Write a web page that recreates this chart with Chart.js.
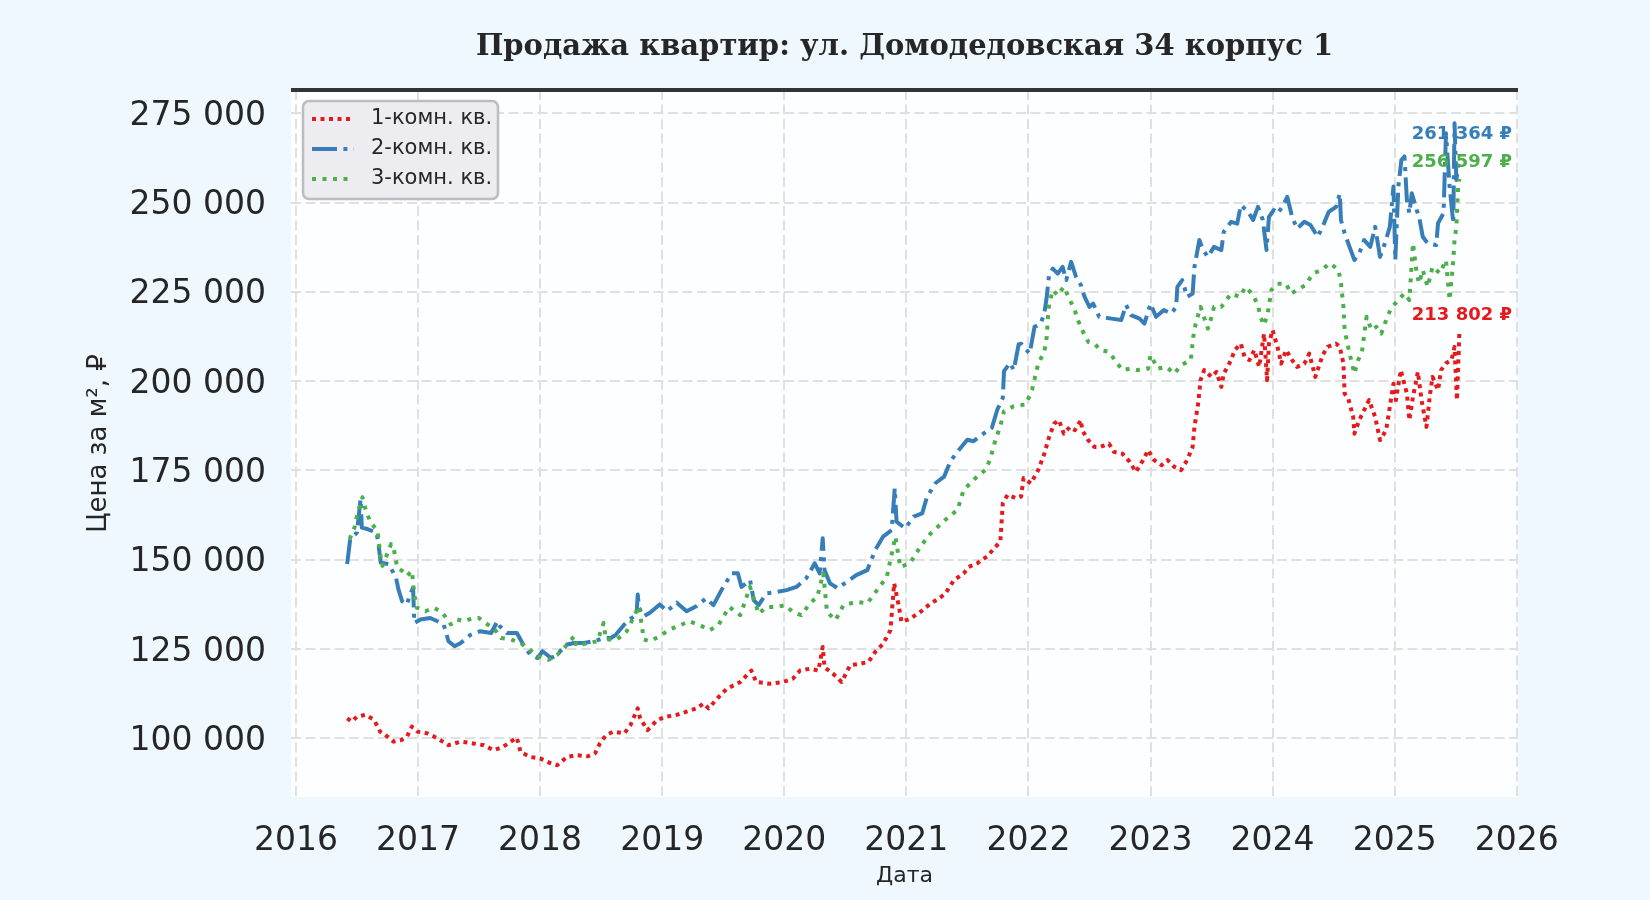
<!DOCTYPE html>
<html lang="ru">
<head>
<meta charset="utf-8">
<title>Продажа квартир</title>
<script src="https://cdn.jsdelivr.net/npm/chart.js@4.4.1/dist/chart.umd.min.js"></script>
<style>
    html, body { margin: 0; padding: 0; background: #f0f8ff; }
    #wrap { width: 1650px; height: 900px; }
</style>
</head>
<body>
<div id="wrap"><canvas id="grafico" width="1650" height="900"></canvas></div>
<script>

var chartTitle = 'Продажа квартир: ул. Домодедовская 34 корпус 1';
var xTitle = 'Дата';
var yTitle = 'Цена за м², ₽';
var seriesNames = ['1-комн. кв.', '2-комн. кв.', '3-комн. кв.'];
var yearTicks = [2016, 2017, 2018, 2019, 2020, 2021, 2022, 2023, 2024, 2025, 2026];
var priceTicks = [100000, 125000, 150000, 175000, 200000, 225000, 250000, 275000];

// 1-комн. кв. (дата в долях года, цена за м²)
var datesOne = [2016.42, 2016.46, 2016.50, 2016.57, 2016.64, 2016.69, 2016.75, 2016.80, 2016.86, 2016.91, 2016.95, 2016.995,
    2017.08, 2017.16, 2017.25, 2017.35, 2017.45, 2017.54, 2017.62, 2017.70, 2017.76, 2017.81, 2017.84, 2017.92,
    2018.00, 2018.09, 2018.14, 2018.22, 2018.30, 2018.39, 2018.45, 2018.49, 2018.54, 2018.60, 2018.69, 2018.74, 2018.80, 2018.82, 2018.88, 2018.96,
    2019.04, 2019.12, 2019.20, 2019.28, 2019.34, 2019.38, 2019.46, 2019.53, 2019.64, 2019.73, 2019.77, 2019.88, 2019.99,
    2020.07, 2020.13, 2020.21, 2020.28, 2020.315, 2020.33, 2020.40, 2020.47, 2020.54, 2020.62, 2020.69, 2020.745, 2020.81, 2020.87, 2020.90, 2020.94, 2020.96,
    2021.03, 2021.115, 2021.20, 2021.27, 2021.32, 2021.39, 2021.47, 2021.51, 2021.58, 2021.66, 2021.72, 2021.77, 2021.79, 2021.83, 2021.90, 2021.94, 2021.96,
    2022.02, 2022.08, 2022.13, 2022.17, 2022.21, 2022.25, 2022.29, 2022.34, 2022.38, 2022.43, 2022.44, 2022.49, 2022.54, 2022.59, 2022.66, 2022.70, 2022.77, 2022.83, 2022.88, 2022.94, 2022.98,
    2023.03, 2023.09, 2023.14, 2023.195, 2023.25, 2023.30, 2023.345, 2023.36, 2023.39, 2023.41, 2023.44, 2023.50, 2023.54, 2023.58, 2023.60, 2023.66, 2023.69, 2023.74, 2023.77, 2023.81, 2023.85, 2023.89, 2023.93, 2023.955, 2023.97,
    2024.00, 2024.04, 2024.07, 2024.11, 2024.16, 2024.20, 2024.26, 2024.30, 2024.35, 2024.41, 2024.45, 2024.52, 2024.55, 2024.58, 2024.59, 2024.62, 2024.66, 2024.67, 2024.71, 2024.75, 2024.79, 2024.84, 2024.88, 2024.93, 2024.96, 2024.99,
    2025.01, 2025.05, 2025.10, 2025.12, 2025.15, 2025.19, 2025.22, 2025.26, 2025.29, 2025.31, 2025.355, 2025.38, 2025.42, 2025.465, 2025.49, 2025.51, 2025.52, 2025.53];
var pricesOne = [105600, 104700, 106100, 106600, 105200, 101900, 100500, 99100, 99500, 100500, 103300, 101900,
    101400, 100000, 98100, 99100, 98600, 98100, 96700, 97700, 99100, 100200, 96200, 94800,
    94400, 93000, 92500, 94800, 95300, 95000, 95800, 98600, 100900, 101900, 101400, 103700, 108400, 105600, 102300, 105200,
    106100, 106600, 107500, 108400, 109800, 108400, 111500, 113900, 115800, 119000, 115800, 115300, 115800,
    116700, 119000, 119500, 119000, 125600, 119900, 118100, 115800, 120500, 120900, 121400, 124200, 126500, 130300, 143400, 136800, 132600,
    133500, 135400, 137800, 139200, 140600, 144300, 146200, 148000, 149000, 150900, 153200, 155100, 165800, 168200, 167200, 167700, 172900,
    171400, 175100, 179700, 184400, 188100, 189100, 185300, 187200, 186300, 189100, 186300, 183500, 181600, 181600, 182500, 180200, 179700, 177400, 174600, 177900, 180700,
    177900, 176500, 177900, 176000, 175100, 177900, 181600, 187200, 193700, 200300, 203100, 201200, 202600, 198400, 202100, 205900, 208700, 210500, 206800, 205900, 208700, 204000, 213300, 200300, 210500,
    214300, 209600, 204900, 208700, 205900, 204000, 204900, 207700, 201200, 207300, 209600, 210500, 209600, 205000, 196500, 195100, 190000, 185300, 189100, 191900, 194700, 190000, 183500, 186300, 192800, 199300,
    194700, 203100, 196500, 189100, 195600, 202600, 194700, 187200, 196500, 201200, 197500, 203100, 205000, 205900, 209600, 194700, 204000, 213802];

// 2-комн. кв.
var datesTwo = [2016.42, 2016.445, 2016.50, 2016.53, 2016.54, 2016.586, 2016.66, 2016.675, 2016.695, 2016.76, 2016.82, 2016.84, 2016.87, 2016.91, 2016.93, 2016.96, 2016.97,
    2017.02, 2017.10, 2017.16, 2017.21, 2017.25, 2017.30, 2017.35, 2017.43, 2017.51, 2017.60, 2017.65, 2017.67, 2017.73, 2017.81, 2017.87, 2017.92, 2017.98,
    2018.02, 2018.09, 2018.14, 2018.21, 2018.28, 2018.36, 2018.44, 2018.52, 2018.58, 2018.62, 2018.69, 2018.75, 2018.79, 2018.80, 2018.81, 2018.85, 2018.90, 2018.98,
    2019.04, 2019.12, 2019.20, 2019.28, 2019.36, 2019.42, 2019.50, 2019.57, 2019.62, 2019.65, 2019.72, 2019.75, 2019.79, 2019.855, 2019.94,
    2020.02, 2020.10, 2020.18, 2020.25, 2020.29, 2020.315, 2020.33, 2020.375, 2020.44, 2020.51, 2020.59, 2020.68, 2020.745, 2020.81, 2020.88, 2020.905, 2020.92, 2020.99,
    2021.06, 2021.13, 2021.17, 2021.24, 2021.31, 2021.36, 2021.42, 2021.50, 2021.55, 2021.64, 2021.70, 2021.745, 2021.79, 2021.80, 2021.85, 2021.88, 2021.92, 2021.94, 2021.98,
    2022.01, 2022.05, 2022.10, 2022.13, 2022.15, 2022.17, 2022.20, 2022.24, 2022.28, 2022.31, 2022.35, 2022.39, 2022.43, 2022.46, 2022.50, 2022.53, 2022.58, 2022.68, 2022.76, 2022.80, 2022.84, 2022.91, 2022.95,
    2023.00, 2023.045, 2023.11, 2023.17, 2023.21, 2023.22, 2023.26, 2023.30, 2023.345, 2023.36, 2023.40, 2023.43, 2023.47, 2023.52, 2023.58, 2023.60, 2023.66, 2023.71, 2023.74, 2023.80, 2023.84, 2023.88, 2023.92, 2023.95, 2023.97,
    2024.01, 2024.04, 2024.08, 2024.12, 2024.16, 2024.20, 2024.26, 2024.31, 2024.37, 2024.42, 2024.46, 2024.52, 2024.55, 2024.56, 2024.59, 2024.63, 2024.67, 2024.71, 2024.75, 2024.80, 2024.84, 2024.88, 2024.92, 2024.96, 2024.99,
    2025.005, 2025.03, 2025.055, 2025.08, 2025.10, 2025.12, 2025.14, 2025.18, 2025.20, 2025.23, 2025.27, 2025.34, 2025.355, 2025.40, 2025.42, 2025.45, 2025.48, 2025.49, 2025.505, 2025.52, 2025.53];
var pricesTwo = [148800, 155800, 157600, 167000, 159000, 158600, 157600, 154800, 149200, 148800, 145000, 141700, 138400, 137500, 139800, 142200, 132300,
    133300, 133700, 132800, 131900, 127200, 125800, 126700, 129000, 130000, 129500, 132800, 131400, 129500, 129500, 125800, 123400, 122500,
    124400, 122500, 123400, 126200, 126700, 126700, 127200, 128100, 128100, 129000, 131900, 133700, 134500, 140300, 136600, 134200, 135200, 137500,
    135600, 138000, 135600, 137000, 139200, 137300, 142400, 146200, 146200, 142400, 144300, 138700, 137300, 140600, 141000,
    141500, 142400, 144800, 149000, 146200, 156000, 147100, 143400, 142000, 143800, 145700, 147100, 152700, 156500, 158300, 170000, 160700, 158800,
    162100, 163000, 167700, 171500, 173300, 177500, 180300, 183600, 183200, 185500, 186900, 192000, 195300, 202800, 205100, 203100, 210300, 210500, 208900,
    207700, 215200, 216100, 218900, 223600, 230100, 231500, 230100, 232000, 228300, 233400, 229200, 226900, 223600, 220800, 221700, 218000, 217500, 217100, 221300, 218500, 217500, 216100,
    221700, 218000, 219900, 218900, 220800, 226400, 228300, 223600, 224500, 232000, 239500, 236700, 234800, 237600, 236700, 241800, 244600, 244100, 249300, 247400, 245100, 248800, 245100, 236700, 246000,
    247900, 246900, 248800, 251600, 246000, 242700, 244600, 243700, 240400, 244100, 247400, 248800, 252500, 245100, 241400, 237600, 233900, 235800, 239500, 237600, 243200, 234800, 238600, 243200, 254500,
    233900, 254500, 261900, 262900, 250700, 247000, 252600, 247900, 246000, 240400, 238600, 238100, 244200, 247000, 269400, 254500, 244200, 272200, 256300, 260100, 261364];

// 3-комн. кв.
var datesThree = [2016.44, 2016.48, 2016.50, 2016.545, 2016.57, 2016.61, 2016.67, 2016.69, 2016.71, 2016.78, 2016.80, 2016.83, 2016.87, 2016.91, 2016.95, 2016.97, 2016.99,
    2017.06, 2017.13, 2017.20, 2017.27, 2017.32, 2017.38, 2017.45, 2017.50, 2017.57, 2017.62, 2017.68, 2017.76, 2017.84, 2017.90, 2017.98,
    2018.07, 2018.14, 2018.21, 2018.28, 2018.30, 2018.39, 2018.47, 2018.52, 2018.54, 2018.63, 2018.71, 2018.81, 2018.85, 2018.90, 2018.98,
    2019.06, 2019.13, 2019.22, 2019.31, 2019.39, 2019.46, 2019.55, 2019.64, 2019.72, 2019.79, 2019.855, 2019.94,
    2020.005, 2020.07, 2020.14, 2020.21, 2020.27, 2020.32, 2020.35, 2020.42, 2020.485, 2020.59, 2020.68, 2020.76, 2020.84, 2020.91, 2020.95,
    2021.03, 2021.115, 2021.20, 2021.32, 2021.42, 2021.47, 2021.58, 2021.65, 2021.69, 2021.73, 2021.77, 2021.80, 2021.88, 2021.98,
    2022.03, 2022.08, 2022.13, 2022.15, 2022.16, 2022.17, 2022.20, 2022.24, 2022.29, 2022.34, 2022.38, 2022.40, 2022.44, 2022.49, 2022.54, 2022.59, 2022.66, 2022.73, 2022.77, 2022.83, 2022.89, 2022.98,
    2023.00, 2023.06, 2023.13, 2023.195, 2023.25, 2023.33, 2023.35, 2023.37, 2023.41, 2023.47, 2023.50, 2023.52, 2023.58, 2023.66, 2023.73, 2023.78, 2023.84, 2023.88, 2023.90, 2023.93, 2023.96, 2023.99,
    2024.04, 2024.11, 2024.15, 2024.20, 2024.27, 2024.33, 2024.40, 2024.47, 2024.54, 2024.56, 2024.58, 2024.59, 2024.63, 2024.67, 2024.70, 2024.73, 2024.77, 2024.81, 2024.85, 2024.89, 2024.93, 2024.97,
    2025.03, 2025.08, 2025.12, 2025.15, 2025.18, 2025.20, 2025.23, 2025.27, 2025.31, 2025.37, 2025.42, 2025.45, 2025.48, 2025.49, 2025.505, 2025.52, 2025.53];
var pricesThree = [155800, 159000, 162300, 167500, 164200, 160500, 158100, 151600, 148300, 154400, 153400, 147800, 146900, 145500, 146900, 140300, 136600,
    135600, 136600, 135200, 131900, 133300, 132800, 133700, 133700, 131900, 130900, 128100, 127700, 126700, 125300, 123000,
    122000, 123400, 125800, 128600, 125800, 126700, 127200, 132300, 127700, 127700, 130000, 137000, 127700, 127200, 128600,
    130500, 131400, 132800, 131700, 130300, 131700, 136800, 134500, 142400, 134900, 136800, 136800,
    137300, 135400, 134500, 137800, 139600, 146200, 135400, 133100, 137300, 138200, 137800, 141500, 145200, 156500, 148000,
    149000, 153700, 157400, 161200, 164000, 169600, 173300, 175200, 178500, 183600, 187400, 191600, 193000, 193500,
    197600, 204900, 208200, 212400, 218000, 221700, 225500, 224000, 226400, 222700, 219900, 217500, 214300, 211000, 210500, 208700, 208200, 204900, 203100, 203500, 203100, 203500,
    207300, 203500, 204000, 202100, 204500, 205900, 212400, 216100, 220800, 214700, 218000, 220800, 220800, 224500, 223600, 226400, 224000, 221300, 218000, 215700, 218900, 225500,
    227300, 227300, 224500, 225500, 226900, 230100, 231100, 233000, 231100, 227400, 220800, 214300, 207800, 202100, 205900, 207800, 218000, 214300, 215200, 213300, 217100, 220400,
    222700, 224600, 222700, 238600, 230200, 227400, 231100, 226400, 232000, 230200, 233900, 222700, 233900, 239500, 243200, 254500, 256597];

function makePoints(dates, prices) {
    var points = [];
    for (var i = 0; i < dates.length; i++) {
        points.push({ x: dates[i], y: prices[i] });
    }
    return points;
}

function makeTicks(values) {
    return values.map(function (v) { return { value: v }; });
}

function formatNumber(v) {
    return String(Math.round(v)).replace(/\B(?=(\d{3})+(?!\d))/g, ' ');
}

var textColor = '#262626';
var sansFont = "'DejaVu Sans', sans-serif";
var gridColor = '#e0e0e0';

// фон фигуры и белое поле графика
var backgroundPlugin = {
    id: 'background',
    beforeDraw: function (chart) {
        var ctx = chart.ctx;
        var area = chart.chartArea;
        ctx.save();
        ctx.fillStyle = '#f0f8ff';
        ctx.fillRect(0, 0, chart.width, chart.height);
        ctx.fillStyle = '#fdfeff';
        ctx.fillRect(area.left, area.top, area.right - area.left, area.bottom - area.top);
        ctx.restore();
    }
};

// заголовок, верхняя рамка, подписи последних значений и легенда
var decorPlugin = {
    id: 'decor',
    afterDatasetsDraw: function (chart) {
        var ctx = chart.ctx;
        var area = chart.chartArea;
        var yScale = chart.scales.y;
        ctx.save();

        // title
        ctx.fillStyle = textColor;
        ctx.font = "bold 29px 'DejaVu Serif', serif";
        ctx.textAlign = 'center';
        ctx.textBaseline = 'middle';
        ctx.fillText(chartTitle, (area.left + area.right) / 2, 47);

        // top spine
        ctx.strokeStyle = '#333333';
        ctx.lineWidth = 4;
        ctx.beginPath();
        ctx.moveTo(area.left, area.top);
        ctx.lineTo(area.right, area.top);
        ctx.stroke();

        // last values
        var labels = [];
        chart.data.datasets.forEach(function (ds) {
            var last = ds.data[ds.data.length - 1].y;
            labels.push({ value: last, color: ds.borderColor, y: yScale.getPixelForValue(last) - 17 });
        });
        labels.sort(function (a, b) { return b.y - a.y; });
        for (var i = 1; i < labels.length; i++) {
            if (labels[i - 1].y - labels[i].y < 28) {
                labels[i].y = labels[i - 1].y - 28;
            }
        }
        ctx.font = 'bold 18px ' + sansFont;
        ctx.textAlign = 'right';
        labels.forEach(function (l) {
            ctx.fillStyle = l.color;
            ctx.fillText(formatNumber(l.value) + ' ₽', area.right - 6, l.y);
        });

        // legend
        var lx = area.left + 12, ly = area.top + 11, lw = 195, lh = 98, r = 6;
        ctx.beginPath();
        ctx.moveTo(lx + r, ly);
        ctx.arcTo(lx + lw, ly, lx + lw, ly + lh, r);
        ctx.arcTo(lx + lw, ly + lh, lx, ly + lh, r);
        ctx.arcTo(lx, ly + lh, lx, ly, r);
        ctx.arcTo(lx, ly, lx + lw, ly, r);
        ctx.closePath();
        ctx.fillStyle = '#ececf1';
        ctx.fill();
        ctx.strokeStyle = '#bdbdbd';
        ctx.lineWidth = 2.5;
        ctx.stroke();

        ctx.font = '21px ' + sansFont;
        ctx.textAlign = 'left';
        chart.data.datasets.forEach(function (ds, k) {
            var rowY = ly + 18 + k * 30;
            ctx.strokeStyle = ds.borderColor;
            ctx.lineWidth = ds.borderWidth;
            ctx.setLineDash(ds.borderDash);
            ctx.beginPath();
            ctx.moveTo(lx + 9, rowY);
            ctx.lineTo(lx + 51, rowY);
            ctx.stroke();
            ctx.setLineDash([]);
            ctx.fillStyle = textColor;
            ctx.fillText(ds.label, lx + 68, rowY);
        });

        ctx.restore();
    }
};

var ctx = document.getElementById('grafico').getContext('2d');
var chart = new Chart(ctx, {
    type: 'line',
    data: {
        datasets: [{
            label: seriesNames[0],
            data: makePoints(datesOne, pricesOne),
            borderColor: '#e41a1c',
            borderWidth: 4,
            borderDash: [4, 4.5],
            order: 2
        }, {
            label: seriesNames[1],
            data: makePoints(datesTwo, pricesTwo),
            borderColor: '#377eb8',
            borderWidth: 4,
            borderDash: [25, 6.4, 4, 6.4],
            order: 1
        }, {
            label: seriesNames[2],
            data: makePoints(datesThree, pricesThree),
            borderColor: '#4daf4a',
            borderWidth: 4,
            borderDash: [4, 6.5],
            order: 0
        }]
    },
    options: {
        responsive: false,
        animation: false,
        devicePixelRatio: 1,
        layout: { padding: { top: 90, right: 132, bottom: 0, left: 0 } },
        elements: {
            point: { radius: 0 },
            line: { tension: 0, fill: false, borderCapStyle: 'butt', borderJoinStyle: 'round' }
        },
        plugins: {
            legend: { display: false },
            title: { display: false },
            tooltip: { enabled: false }
        },
        scales: {
            x: {
                type: 'linear',
                min: 2015.96,
                max: 2026.01,
                afterFit: function (scale) { scale.height = 103; },
                afterBuildTicks: function (scale) { scale.ticks = makeTicks(yearTicks); },
                ticks: {
                    autoSkip: false,
                    maxRotation: 0,
                    padding: 25,
                    color: textColor,
                    font: { family: sansFont, size: 33 },
                    callback: function (v) { return String(v); }
                },
                grid: { color: gridColor, lineWidth: 2, drawTicks: false },
                border: { display: false, dash: [10, 4.5] },
                title: {
                    display: true,
                    text: xTitle,
                    color: textColor,
                    font: { family: sansFont, size: 22 },
                    padding: { top: 0, bottom: 11 }
                }
            },
            y: {
                type: 'linear',
                min: 83600,
                max: 281500,
                afterFit: function (scale) { scale.width = 291; },
                afterBuildTicks: function (scale) { scale.ticks = makeTicks(priceTicks); },
                ticks: {
                    autoSkip: false,
                    padding: 25,
                    labelOffset: 3,
                    color: textColor,
                    font: { family: sansFont, size: 33 },
                    callback: function (v) { return formatNumber(v); }
                },
                grid: { color: gridColor, lineWidth: 2, drawTicks: false },
                border: { display: false, dash: [10, 4.5] },
                title: {
                    display: true,
                    text: yTitle,
                    color: textColor,
                    font: { family: sansFont, size: 26 },
                    padding: { top: 84, bottom: 0 }
                }
            }
        }
    },
    plugins: [backgroundPlugin, decorPlugin]
});

</script>
</body>
</html>
